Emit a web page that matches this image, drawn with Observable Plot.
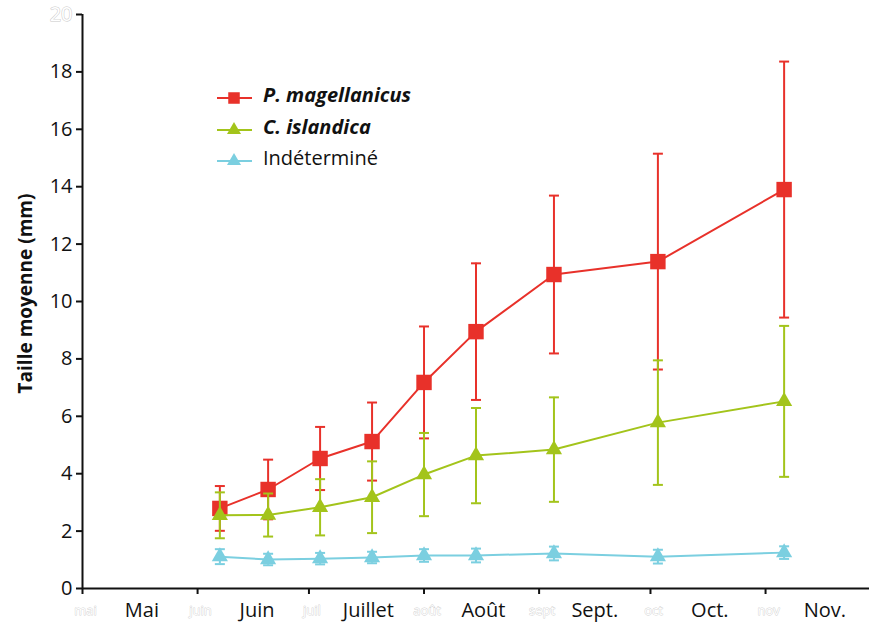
<!DOCTYPE html>
<html>
<head>
<meta charset="utf-8">
<script src="https://cdn.jsdelivr.net/npm/d3@7"></script>
<script src="https://cdn.jsdelivr.net/npm/@observablehq/plot@0.6"></script>
<style>
  body { margin: 0; background: #fff; }
  #chart { width: 869px; height: 624px; }
</style>
</head>
<body>
<div id="chart"></div>
<script>
// Sampling dates (season of settlement)
const sampleDates = ["2000-06-07", "2000-06-20", "2000-07-04", "2000-07-18", "2000-08-01",
                     "2000-08-15", "2000-09-05", "2000-10-03", "2000-11-06"];

// Mean shell size (mm) and standard deviation per taxon
const magellanicus   = [2.79, 3.45, 4.53, 5.12, 7.18, 8.95, 10.94, 11.39, 13.90];
const magellanicusSd = [0.78, 1.04, 1.10, 1.36, 1.95, 2.38, 2.75, 3.76, 4.46];
const islandica      = [2.55, 2.56, 2.83, 3.18, 3.97, 4.63, 4.84, 5.78, 6.52];
const islandicaSd    = [0.80, 0.75, 0.98, 1.25, 1.45, 1.66, 1.82, 2.17, 2.63];
const indetermine    = [1.11, 1.01, 1.04, 1.08, 1.15, 1.15, 1.22, 1.11, 1.25];
const indetermineSd  = [0.26, 0.20, 0.20, 0.20, 0.22, 0.24, 0.24, 0.24, 0.22];

const seriesNames  = ["P. magellanicus", "C. islandica", "Indéterminé"];
const seriesColors = ["#e8312a", "#a3c41b", "#7bcfe0"];
const seriesSymbols = ["square", "triangle", "triangle"];

// Month axis: boundaries, centred month names, and small month tags
const monthStarts     = ["2000-05-01", "2000-06-01", "2000-07-01", "2000-08-01", "2000-09-01", "2000-10-01", "2000-11-01"];
const monthNames      = ["Mai", "Juin", "Juillet", "Août", "Sept.", "Oct.", "Nov."];
const monthNameDates  = ["2000-05-17", "2000-06-17", "2000-07-17", "2000-08-17", "2000-09-16", "2000-10-17", "2000-11-17"];
const monthTags       = ["mai", "juin", "juil", "août", "sept", "oct", "nov"];
const yTicks          = [0, 2, 4, 6, 8, 10, 12, 14, 16, 18, 20];

const parse = d3.utcParse("%Y-%m-%d");
const xDomain = [parse("2000-05-01"), parse("2000-11-29")];

function makeSeries(means, sds) {
  return sampleDates.map((d, i) => ({
    date: parse(d), mean: means[i], lo: means[i] - sds[i], hi: means[i] + sds[i]
  }));
}
const series = [
  makeSeries(magellanicus, magellanicusSd),
  makeSeries(islandica, islandicaSd),
  makeSeries(indetermine, indetermineSd)
];

// Horizontal cap for error bars
const capSymbol = {
  draw(context, size) {
    const w = Math.sqrt(size / Math.PI);
    context.moveTo(-w, 0);
    context.lineTo(w, 0);
  }
};

const seriesMarks = series.flatMap((data, k) => {
  const color = seriesColors[k];
  return [
    Plot.ruleX(data, {x: "date", y1: "lo", y2: "hi", stroke: color, strokeWidth: 2}),
    Plot.dot(data, {x: "date", y: "lo", symbol: capSymbol, r: 5, stroke: color, fill: "none", strokeWidth: 2}),
    Plot.dot(data, {x: "date", y: "hi", symbol: capSymbol, r: 5, stroke: color, fill: "none", strokeWidth: 2}),
    Plot.line(data, {x: "date", y: "mean", stroke: color, strokeWidth: 2}),
    Plot.dot(data, {x: "date", y: "mean", symbol: seriesSymbols[k], r: seriesSymbols[k] === "square" ? 8.7 : 6, fill: color})
  ];
});

const chart = Plot.plot({
  width: 869,
  height: 624,
  marginLeft: 82,
  marginRight: 0,
  marginTop: 14,
  marginBottom: 36,
  style: {fontFamily: "'Open Sans', sans-serif", fontSize: "20px", color: "#111", background: "#fff"},
  x: {type: "utc", domain: xDomain},
  y: {domain: [0, 20]},
  marks: [
    Plot.axisY({ticks: yTicks, tickSize: 6, tickPadding: 4, fontSize: 20, strokeWidth: 2,
                tickFormat: d => d === 20 ? "" : d, label: null}),
    Plot.text([20], {y: d => d, text: d => String(d), frameAnchor: "left", dx: -10, textAnchor: "end",
                     fontSize: 20, fill: "#fff", stroke: "#c8c8c8", strokeWidth: 1}),
    Plot.axisX({ticks: monthStarts.map(parse), tickSize: 6, strokeWidth: 2, tickFormat: () => "", label: null}),
    Plot.text(monthNames, {x: (d, i) => parse(monthNameDates[i]), text: d => d, frameAnchor: "bottom",
                           dy: 22, lineAnchor: "middle", fontSize: 20}),
    Plot.text(monthTags, {x: (d, i) => parse(monthStarts[i]), text: d => d, frameAnchor: "bottom",
                          dx: 3, dy: 22, lineAnchor: "middle", fontSize: 13, fill: "#fff", stroke: "#d0d0d0", strokeWidth: 0.8}),
    Plot.text(["Taille moyenne (mm)"], {frameAnchor: "left", rotate: -90, dx: -57, dy: -8,
                                        textAnchor: "middle", lineAnchor: "middle",
                                        fontWeight: "bold", fontSize: 19}),
    Plot.ruleY([0], {stroke: "#111", strokeWidth: 2}),
    Plot.ruleX([xDomain[0]], {stroke: "#111", strokeWidth: 2}),
    ...seriesMarks
  ]
});

// Legend in the upper-left of the plotting area
const svg = d3.select(chart);
const legend = svg.append("g")
  .attr("font-family", "'Open Sans', sans-serif")
  .attr("font-size", 20)
  .attr("text-anchor", "start");
const rowY = [98, 130, 161];
seriesNames.forEach((name, k) => {
  const g = legend.append("g").attr("transform", `translate(0,${rowY[k]})`);
  g.append("line").attr("x1", 217).attr("x2", 252).attr("y1", 0).attr("y2", 0)
    .attr("stroke", seriesColors[k]).attr("stroke-width", 2);
  g.append("path")
    .attr("transform", "translate(234,0)")
    .attr("d", d3.symbol(seriesSymbols[k] === "square" ? d3.symbolSquare : d3.symbolTriangle,
                         Math.PI * (seriesSymbols[k] === "square" ? 6.5 : 5.2) ** 2)())
    .attr("fill", seriesColors[k]);
  g.append("text").attr("x", 263).attr("y", -2).attr("dy", "0.32em")
    .attr("fill", "#111")
    .attr("font-weight", k < 2 ? "bold" : "normal")
    .attr("font-style", k < 2 ? "italic" : "normal")
    .text(name);
});

document.getElementById("chart").append(chart);
</script>
</body>
</html>
